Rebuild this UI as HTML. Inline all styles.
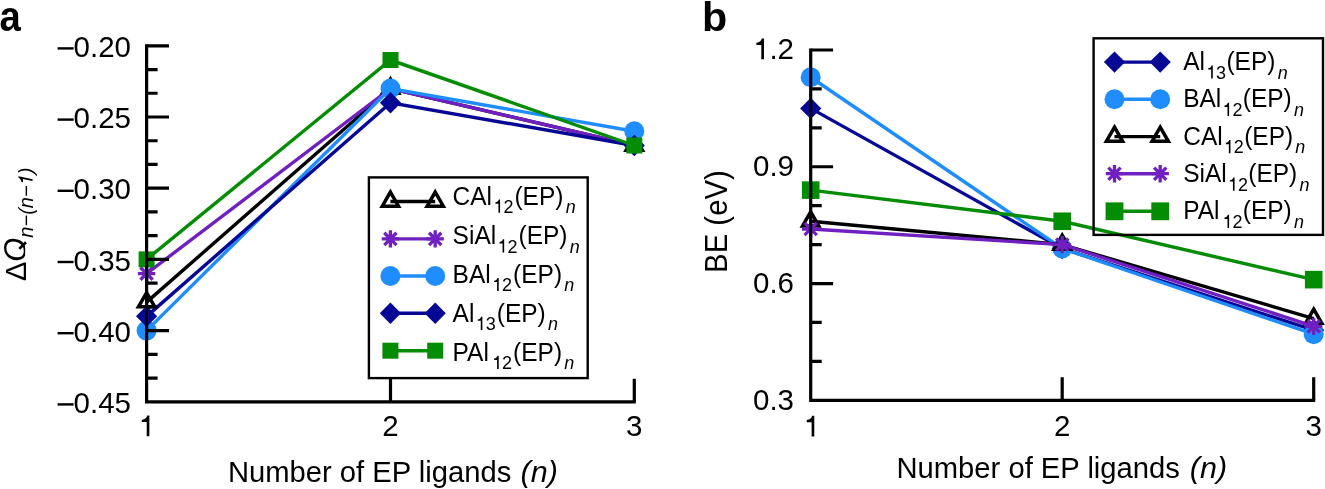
<!DOCTYPE html>
<html><head><meta charset="utf-8"><style>
html,body{margin:0;padding:0;background:#fff;}
body{width:1325px;height:489px;overflow:hidden;}
svg{display:block;font-family:"Liberation Sans", sans-serif;will-change:transform;}
text{fill:#000;}
</style></head><body>
<svg width="1325" height="489" viewBox="0 0 1325 489">
<rect width="1325" height="489" fill="#fff"/>
<g>
<path d="M146.60 302.12L390.50 88.52L634.30 145.48" stroke="#000" stroke-width="3.4" fill="none" stroke-linejoin="miter"/><path d="M146.60 292.72L154.74 306.82L138.46 306.82Z" fill="none" stroke="#000" stroke-width="3.5" stroke-linejoin="miter" stroke-miterlimit="10"/><path d="M390.50 79.12L398.64 93.22L382.36 93.22Z" fill="none" stroke="#000" stroke-width="3.5" stroke-linejoin="miter" stroke-miterlimit="10"/><path d="M634.30 136.08L642.44 150.18L626.16 150.18Z" fill="none" stroke="#000" stroke-width="3.5" stroke-linejoin="miter" stroke-miterlimit="10"/>
<path d="M146.60 273.64L390.50 88.52L634.30 145.48" stroke="#7020c0" stroke-width="3.4" fill="none" stroke-linejoin="miter"/><path d="M137.90 273.64L155.30 273.64M140.45 267.49L152.75 279.79M146.60 264.94L146.60 282.34M152.75 267.49L140.45 279.79" stroke="#7020c0" stroke-width="3.3" fill="none"/><path d="M381.80 88.52L399.20 88.52M384.35 82.37L396.65 94.67M390.50 79.82L390.50 97.22M396.65 82.37L384.35 94.67" stroke="#7020c0" stroke-width="3.3" fill="none"/><path d="M625.60 145.48L643.00 145.48M628.15 139.33L640.45 151.63M634.30 136.78L634.30 154.18M640.45 139.33L628.15 151.63" stroke="#7020c0" stroke-width="3.3" fill="none"/>
<path d="M146.60 330.60L390.50 88.52L634.30 131.24" stroke="#1f8dfd" stroke-width="3.4" fill="none" stroke-linejoin="miter"/><circle cx="146.60" cy="330.60" r="10.0" fill="#1f8dfd"/><circle cx="390.50" cy="88.52" r="10.0" fill="#1f8dfd"/><circle cx="634.30" cy="131.24" r="10.0" fill="#1f8dfd"/>
<path d="M146.60 316.36L390.50 102.76L634.30 145.48" stroke="#070795" stroke-width="3.4" fill="none" stroke-linejoin="miter"/><path d="M146.60 305.66L157.20 316.36L146.60 327.06L136.00 316.36Z" fill="#070795"/><path d="M390.50 92.06L401.10 102.76L390.50 113.46L379.90 102.76Z" fill="#070795"/><path d="M634.30 134.78L644.90 145.48L634.30 156.18L623.70 145.48Z" fill="#070795"/>
<path d="M146.60 259.40L390.50 60.04L634.30 145.48" stroke="#048c04" stroke-width="3.4" fill="none" stroke-linejoin="miter"/><rect x="138.60" y="251.40" width="16" height="16" fill="#048c04"/><rect x="382.50" y="52.04" width="16" height="16" fill="#048c04"/><rect x="626.30" y="137.48" width="16" height="16" fill="#048c04"/>
</g>
<path d="M146.6 44.199999999999996V401.8H635.8" stroke="#000" stroke-width="3.2" fill="none" stroke-linejoin="miter" stroke-linecap="butt"/>
<path d="M146.6 45.80H169.0M146.6 69.53H157.6M146.6 93.27H157.6M146.6 117.00H169.0M146.6 140.73H157.6M146.6 164.47H157.6M146.6 188.20H169.0M146.6 211.93H157.6M146.6 235.67H157.6M146.6 259.40H169.0M146.6 283.13H157.6M146.6 306.87H157.6M146.6 330.60H169.0M146.6 354.33H157.6M146.6 378.07H157.6M390.5 401.8V378.8M634.3 401.8V378.8" stroke="#000" stroke-width="3.2" fill="none"/>
<text x="131" y="57.00" font-size="29.5" text-anchor="end" >0.20</text>
<rect x="57.6" y="47.20" width="16.0" height="2.4" fill="#000"/>
<text x="131" y="128.20" font-size="29.5" text-anchor="end" >0.25</text>
<rect x="57.6" y="118.40" width="16.0" height="2.4" fill="#000"/>
<text x="131" y="199.40" font-size="29.5" text-anchor="end" >0.30</text>
<rect x="57.6" y="189.60" width="16.0" height="2.4" fill="#000"/>
<text x="131" y="270.60" font-size="29.5" text-anchor="end" >0.35</text>
<rect x="57.6" y="260.80" width="16.0" height="2.4" fill="#000"/>
<text x="131" y="341.80" font-size="29.5" text-anchor="end" >0.40</text>
<rect x="57.6" y="332.00" width="16.0" height="2.4" fill="#000"/>
<text x="131" y="413.00" font-size="29.5" text-anchor="end" >0.45</text>
<rect x="57.6" y="403.20" width="16.0" height="2.4" fill="#000"/>
<path d="M146.72 436.30L149.37 436.30L149.37 415.56L147.25 415.56C146.81 417.42 145.18 419.63 141.79 419.93L141.79 422.08L146.72 422.08Z" fill="#000"/>
<text x="390.5" y="436.3" font-size="29.5" text-anchor="middle" >2</text>
<text x="634.3" y="436.3" font-size="29.5" text-anchor="middle" >3</text>
<g transform="translate(227.9 482.3) scale(1 1.0)"><text x="0" y="0" font-size="29.19">Number of EP ligands</text></g>
<g transform="translate(520.6 482.3) scale(1.045 1.0)"><text x="0" y="0" font-size="29.19" font-style="italic">(n)</text></g>
<defs><clipPath id="qclip"><rect x="-5" y="-40" width="80" height="39.6"/></clipPath></defs>
<g transform="translate(25.6 281.1) rotate(-90)"><text x="0" y="0" font-size="29">Δ</text><text x="19.37" y="0" font-size="31" font-style="italic" clip-path="url(#qclip)">Q</text><path d="M32.2 -6.3L38.9 0.4" stroke="#000" stroke-width="2.7"/><text x="43.48" y="7" font-size="20" font-style="italic">n−(n−</text><g transform="translate(0 7) skewX(-12) translate(0 -7)"><path d="M100.04 7.00L101.84 7.00L101.84 -7.06L100.40 -7.06C100.10 -5.80 99.00 -4.30 96.70 -4.10L96.70 -2.64L100.04 -2.64Z" fill="#000"/></g><text x="106.87" y="7" font-size="20" font-style="italic">)</text></g>
<g transform="translate(-0.47 31) scale(0.9 1)"><text x="0" y="0" font-size="42.5" font-weight="bold">a</text></g>
<rect x="368.9" y="177.4" width="218.8" height="200.7" fill="none" stroke="#000" stroke-width="2.4"/>
<path d="M390.40 201.50L435.20 201.50" stroke="#000" stroke-width="3.4" fill="none" stroke-linejoin="miter"/><path d="M390.40 192.10L398.54 206.20L382.26 206.20Z" fill="none" stroke="#000" stroke-width="3.5" stroke-linejoin="miter" stroke-miterlimit="10"/><path d="M435.20 192.10L443.34 206.20L427.06 206.20Z" fill="none" stroke="#000" stroke-width="3.5" stroke-linejoin="miter" stroke-miterlimit="10"/>
<g transform="translate(452.60 204.50) scale(1 1.045)"><text x="0" y="0" font-size="24.5">CAl</text></g><g transform="translate(0 212.80) scale(1 1.045) translate(0 -212.80)"><path d="M498.45 212.80L500.07 212.80L500.07 200.15L498.78 200.15C498.51 201.28 497.52 202.63 495.45 202.81L495.45 204.12L498.45 204.12Z" fill="#000"/></g><g transform="translate(503.39 212.80) scale(1 1.045)"><text x="0" y="0" font-size="18">2</text></g><g transform="translate(514.44 204.50) scale(1 1.045)"><text x="0" y="0" font-size="24.5">(EP)</text></g><g transform="translate(565.64 212.80) scale(1 1.045)"><text x="0" y="0" font-size="18" font-style="italic">n</text></g>
<path d="M390.40 238.90L435.20 238.90" stroke="#7020c0" stroke-width="3.4" fill="none" stroke-linejoin="miter"/><path d="M381.70 238.90L399.10 238.90M384.25 232.75L396.55 245.05M390.40 230.20L390.40 247.60M396.55 232.75L384.25 245.05" stroke="#7020c0" stroke-width="3.3" fill="none"/><path d="M426.50 238.90L443.90 238.90M429.05 232.75L441.35 245.05M435.20 230.20L435.20 247.60M441.35 232.75L429.05 245.05" stroke="#7020c0" stroke-width="3.3" fill="none"/>
<g transform="translate(452.60 244.20) scale(1 1.045)"><text x="0" y="0" font-size="24.5">SiAl</text></g><g transform="translate(0 252.50) scale(1 1.045) translate(0 -252.50)"><path d="M502.54 252.50L504.16 252.50L504.16 239.85L502.87 239.85C502.60 240.98 501.61 242.33 499.54 242.51L499.54 243.82L502.54 243.82Z" fill="#000"/></g><g transform="translate(507.48 252.50) scale(1 1.045)"><text x="0" y="0" font-size="18">2</text></g><g transform="translate(518.53 244.20) scale(1 1.045)"><text x="0" y="0" font-size="24.5">(EP)</text></g><g transform="translate(569.73 252.50) scale(1 1.045)"><text x="0" y="0" font-size="18" font-style="italic">n</text></g>
<path d="M390.40 276.00L435.20 276.00" stroke="#1f8dfd" stroke-width="3.4" fill="none" stroke-linejoin="miter"/><circle cx="390.40" cy="276.00" r="10.0" fill="#1f8dfd"/><circle cx="435.20" cy="276.00" r="10.0" fill="#1f8dfd"/>
<g transform="translate(452.60 282.80) scale(1 1.045)"><text x="0" y="0" font-size="24.5">BAl</text></g><g transform="translate(0 291.10) scale(1 1.045) translate(0 -291.10)"><path d="M497.10 291.10L498.72 291.10L498.72 278.45L497.43 278.45C497.16 279.58 496.17 280.93 494.10 281.11L494.10 282.42L497.10 282.42Z" fill="#000"/></g><g transform="translate(502.03 291.10) scale(1 1.045)"><text x="0" y="0" font-size="18">2</text></g><g transform="translate(513.09 282.80) scale(1 1.045)"><text x="0" y="0" font-size="24.5">(EP)</text></g><g transform="translate(564.29 291.10) scale(1 1.045)"><text x="0" y="0" font-size="18" font-style="italic">n</text></g>
<path d="M390.40 313.20L435.20 313.20" stroke="#070795" stroke-width="3.4" fill="none" stroke-linejoin="miter"/><path d="M390.40 302.50L401.00 313.20L390.40 323.90L379.80 313.20Z" fill="#070795"/><path d="M435.20 302.50L445.80 313.20L435.20 323.90L424.60 313.20Z" fill="#070795"/>
<g transform="translate(452.60 321.60) scale(1 1.045)"><text x="0" y="0" font-size="24.5">Al</text></g><g transform="translate(0 329.90) scale(1 1.045) translate(0 -329.90)"><path d="M480.76 329.90L482.38 329.90L482.38 317.25L481.08 317.25C480.81 318.38 479.82 319.73 477.75 319.91L477.75 321.22L480.76 321.22Z" fill="#000"/></g><g transform="translate(485.69 329.90) scale(1 1.045)"><text x="0" y="0" font-size="18">3</text></g><g transform="translate(496.75 321.60) scale(1 1.045)"><text x="0" y="0" font-size="24.5">(EP)</text></g><g transform="translate(547.95 329.90) scale(1 1.045)"><text x="0" y="0" font-size="18" font-style="italic">n</text></g>
<path d="M390.40 350.70L435.20 350.70" stroke="#048c04" stroke-width="3.4" fill="none" stroke-linejoin="miter"/><rect x="382.40" y="342.70" width="16" height="16" fill="#048c04"/><rect x="427.20" y="342.70" width="16" height="16" fill="#048c04"/>
<g transform="translate(452.60 360.70) scale(1 1.045)"><text x="0" y="0" font-size="24.5">PAl</text></g><g transform="translate(0 369.00) scale(1 1.045) translate(0 -369.00)"><path d="M497.10 369.00L498.72 369.00L498.72 356.35L497.43 356.35C497.16 357.48 496.17 358.83 494.10 359.01L494.10 360.32L497.10 360.32Z" fill="#000"/></g><g transform="translate(502.03 369.00) scale(1 1.045)"><text x="0" y="0" font-size="18">2</text></g><g transform="translate(513.09 360.70) scale(1 1.045)"><text x="0" y="0" font-size="24.5">(EP)</text></g><g transform="translate(564.29 369.00) scale(1 1.045)"><text x="0" y="0" font-size="18" font-style="italic">n</text></g>
<g>
<path d="M810.70 108.38L1062.20 248.50L1313.70 330.24" stroke="#070795" stroke-width="3.4" fill="none" stroke-linejoin="miter"/><path d="M810.70 97.68L821.30 108.38L810.70 119.08L800.10 108.38Z" fill="#070795"/><path d="M1062.20 237.80L1072.80 248.50L1062.20 259.20L1051.60 248.50Z" fill="#070795"/><path d="M1313.70 319.54L1324.30 330.24L1313.70 340.94L1303.10 330.24Z" fill="#070795"/>
<path d="M810.70 77.25L1062.20 248.50L1313.70 334.13" stroke="#1f8dfd" stroke-width="3.4" fill="none" stroke-linejoin="miter"/><circle cx="810.70" cy="77.25" r="10.0" fill="#1f8dfd"/><circle cx="1062.20" cy="248.50" r="10.0" fill="#1f8dfd"/><circle cx="1313.70" cy="334.13" r="10.0" fill="#1f8dfd"/>
<path d="M810.70 221.26L1062.20 244.61L1313.70 318.56" stroke="#000" stroke-width="3.4" fill="none" stroke-linejoin="miter"/><path d="M810.70 211.86L818.84 225.96L802.56 225.96Z" fill="none" stroke="#000" stroke-width="3.5" stroke-linejoin="miter" stroke-miterlimit="10"/><path d="M1062.20 235.21L1070.34 249.31L1054.06 249.31Z" fill="none" stroke="#000" stroke-width="3.5" stroke-linejoin="miter" stroke-miterlimit="10"/><path d="M1313.70 309.16L1321.84 323.26L1305.56 323.26Z" fill="none" stroke="#000" stroke-width="3.5" stroke-linejoin="miter" stroke-miterlimit="10"/>
<path d="M810.70 229.04L1062.20 244.61L1313.70 326.35" stroke="#7020c0" stroke-width="3.4" fill="none" stroke-linejoin="miter"/><path d="M802.00 229.04L819.40 229.04M804.55 222.89L816.85 235.19M810.70 220.34L810.70 237.74M816.85 222.89L804.55 235.19" stroke="#7020c0" stroke-width="3.3" fill="none"/><path d="M1053.50 244.61L1070.90 244.61M1056.05 238.46L1068.35 250.76M1062.20 235.91L1062.20 253.31M1068.35 238.46L1056.05 250.76" stroke="#7020c0" stroke-width="3.3" fill="none"/><path d="M1305.00 326.35L1322.40 326.35M1307.55 320.20L1319.85 332.50M1313.70 317.65L1313.70 335.05M1319.85 320.20L1307.55 332.50" stroke="#7020c0" stroke-width="3.3" fill="none"/>
<path d="M810.70 190.12L1062.20 221.26L1313.70 279.64" stroke="#048c04" stroke-width="3.4" fill="none" stroke-linejoin="miter"/><rect x="801.90" y="181.32" width="17.6" height="17.6" fill="#048c04"/><rect x="1053.40" y="212.46" width="17.6" height="17.6" fill="#048c04"/><rect x="1304.90" y="270.84" width="17.6" height="17.6" fill="#048c04"/>
</g>
<path d="M810.7 48.4V400.3H1315.2" stroke="#000" stroke-width="3.2" fill="none" stroke-linejoin="miter"/>
<path d="M810.7 50.00H833.1M810.7 88.92H821.7M810.7 127.84H821.7M810.7 166.77H833.1M810.7 205.69H821.7M810.7 244.61H821.7M810.7 283.53H833.1M810.7 322.46H821.7M810.7 361.38H821.7M1062.2 400.3V377.3M1313.7 400.3V377.3" stroke="#000" stroke-width="3.2" fill="none"/>
<text x="794" y="59.20" font-size="29.5" text-anchor="end" >.2</text>
<path d="M761.31 59.20L763.97 59.20L763.97 38.46L761.85 38.46C761.40 40.32 759.78 42.53 756.39 42.83L756.39 44.98L761.31 44.98Z" fill="#000"/>
<text x="794" y="175.97" font-size="29.5" text-anchor="end" >0.9</text>
<text x="794" y="292.73" font-size="29.5" text-anchor="end" >0.6</text>
<text x="794" y="409.50" font-size="29.5" text-anchor="end" >0.3</text>
<path d="M811.62 436.40L814.27 436.40L814.27 415.66L812.15 415.66C811.71 417.52 810.08 419.73 806.69 420.03L806.69 422.18L811.62 422.18Z" fill="#000"/>
<text x="1062.2" y="436.4" font-size="29.5" text-anchor="middle" >2</text>
<text x="1313.7" y="436.4" font-size="29.5" text-anchor="middle" >3</text>
<g transform="translate(896.5 478.1) scale(1 1.0)"><text x="0" y="0" font-size="29.2">Number of EP ligands</text></g>
<g transform="translate(1189.8 478.1) scale(1.045 1.0)"><text x="0" y="0" font-size="29.2" font-style="italic">(n)</text></g>
<g transform="translate(726.9 272.9) rotate(-90) scale(1 1.04)"><text x="0" y="0" font-size="29.34">BE (eV)</text></g>
<text x="701.9" y="31.1" font-size="41.3" font-weight="bold">b</text>
<rect x="1093.6" y="38.3" width="229.4" height="196.6" fill="none" stroke="#000" stroke-width="2.4"/>
<path d="M1114.50 62.10L1160.20 62.10" stroke="#070795" stroke-width="3.4" fill="none" stroke-linejoin="miter"/><path d="M1114.50 51.40L1125.10 62.10L1114.50 72.80L1103.90 62.10Z" fill="#070795"/><path d="M1160.20 51.40L1170.80 62.10L1160.20 72.80L1149.60 62.10Z" fill="#070795"/>
<g transform="translate(1183.20 70.00) scale(1 1.045)"><text x="0" y="0" font-size="24.5">Al</text></g><g transform="translate(0 78.60) scale(1 1.045) translate(0 -78.60)"><path d="M1211.16 78.60L1212.78 78.60L1212.78 65.95L1211.48 65.95C1211.21 67.08 1210.22 68.43 1208.15 68.61L1208.15 69.92L1211.16 69.92Z" fill="#000"/></g><g transform="translate(1216.09 78.60) scale(1 1.045)"><text x="0" y="0" font-size="18">3</text></g><g transform="translate(1226.45 70.00) scale(1 1.045)"><text x="0" y="0" font-size="24.5">(EP)</text></g><g transform="translate(1277.65 78.60) scale(1 1.045)"><text x="0" y="0" font-size="18" font-style="italic">n</text></g>
<path d="M1114.50 99.30L1160.20 99.30" stroke="#1f8dfd" stroke-width="3.4" fill="none" stroke-linejoin="miter"/><circle cx="1114.50" cy="99.30" r="10.0" fill="#1f8dfd"/><circle cx="1160.20" cy="99.30" r="10.0" fill="#1f8dfd"/>
<g transform="translate(1183.20 107.35) scale(1 1.045)"><text x="0" y="0" font-size="24.5">BAl</text></g><g transform="translate(0 115.95) scale(1 1.045) translate(0 -115.95)"><path d="M1227.50 115.95L1229.12 115.95L1229.12 103.30L1227.83 103.30C1227.56 104.43 1226.57 105.78 1224.50 105.96L1224.50 107.27L1227.50 107.27Z" fill="#000"/></g><g transform="translate(1232.43 115.95) scale(1 1.045)"><text x="0" y="0" font-size="18">2</text></g><g transform="translate(1242.79 107.35) scale(1 1.045)"><text x="0" y="0" font-size="24.5">(EP)</text></g><g transform="translate(1293.99 115.95) scale(1 1.045)"><text x="0" y="0" font-size="18" font-style="italic">n</text></g>
<path d="M1114.50 136.60L1160.20 136.60" stroke="#000" stroke-width="3.4" fill="none" stroke-linejoin="miter"/><path d="M1114.50 127.20L1122.64 141.30L1106.36 141.30Z" fill="none" stroke="#000" stroke-width="3.5" stroke-linejoin="miter" stroke-miterlimit="10"/><path d="M1160.20 127.20L1168.34 141.30L1152.06 141.30Z" fill="none" stroke="#000" stroke-width="3.5" stroke-linejoin="miter" stroke-miterlimit="10"/>
<g transform="translate(1183.20 144.70) scale(1 1.045)"><text x="0" y="0" font-size="24.5">CAl</text></g><g transform="translate(0 153.30) scale(1 1.045) translate(0 -153.30)"><path d="M1228.85 153.30L1230.47 153.30L1230.47 140.65L1229.18 140.65C1228.91 141.78 1227.92 143.13 1225.85 143.31L1225.85 144.62L1228.85 144.62Z" fill="#000"/></g><g transform="translate(1233.79 153.30) scale(1 1.045)"><text x="0" y="0" font-size="18">2</text></g><g transform="translate(1244.14 144.70) scale(1 1.045)"><text x="0" y="0" font-size="24.5">(EP)</text></g><g transform="translate(1295.34 153.30) scale(1 1.045)"><text x="0" y="0" font-size="18" font-style="italic">n</text></g>
<path d="M1114.50 173.70L1160.20 173.70" stroke="#7020c0" stroke-width="3.4" fill="none" stroke-linejoin="miter"/><path d="M1105.80 173.70L1123.20 173.70M1108.35 167.55L1120.65 179.85M1114.50 165.00L1114.50 182.40M1120.65 167.55L1108.35 179.85" stroke="#7020c0" stroke-width="3.3" fill="none"/><path d="M1151.50 173.70L1168.90 173.70M1154.05 167.55L1166.35 179.85M1160.20 165.00L1160.20 182.40M1166.35 167.55L1154.05 179.85" stroke="#7020c0" stroke-width="3.3" fill="none"/>
<g transform="translate(1183.20 182.05) scale(1 1.045)"><text x="0" y="0" font-size="24.5">SiAl</text></g><g transform="translate(0 190.65) scale(1 1.045) translate(0 -190.65)"><path d="M1232.94 190.65L1234.56 190.65L1234.56 178.00L1233.27 178.00C1233.00 179.13 1232.01 180.48 1229.94 180.66L1229.94 181.97L1232.94 181.97Z" fill="#000"/></g><g transform="translate(1237.88 190.65) scale(1 1.045)"><text x="0" y="0" font-size="18">2</text></g><g transform="translate(1248.23 182.05) scale(1 1.045)"><text x="0" y="0" font-size="24.5">(EP)</text></g><g transform="translate(1299.43 190.65) scale(1 1.045)"><text x="0" y="0" font-size="18" font-style="italic">n</text></g>
<path d="M1114.50 211.30L1160.20 211.30" stroke="#048c04" stroke-width="3.4" fill="none" stroke-linejoin="miter"/><rect x="1105.60" y="202.40" width="17.8" height="17.8" fill="#048c04"/><rect x="1151.30" y="202.40" width="17.8" height="17.8" fill="#048c04"/>
<g transform="translate(1183.20 219.40) scale(1 1.045)"><text x="0" y="0" font-size="24.5">PAl</text></g><g transform="translate(0 228.00) scale(1 1.045) translate(0 -228.00)"><path d="M1227.50 228.00L1229.12 228.00L1229.12 215.35L1227.83 215.35C1227.56 216.48 1226.57 217.83 1224.50 218.01L1224.50 219.32L1227.50 219.32Z" fill="#000"/></g><g transform="translate(1232.43 228.00) scale(1 1.045)"><text x="0" y="0" font-size="18">2</text></g><g transform="translate(1242.79 219.40) scale(1 1.045)"><text x="0" y="0" font-size="24.5">(EP)</text></g><g transform="translate(1293.99 228.00) scale(1 1.045)"><text x="0" y="0" font-size="18" font-style="italic">n</text></g>
</svg>
</body></html>
